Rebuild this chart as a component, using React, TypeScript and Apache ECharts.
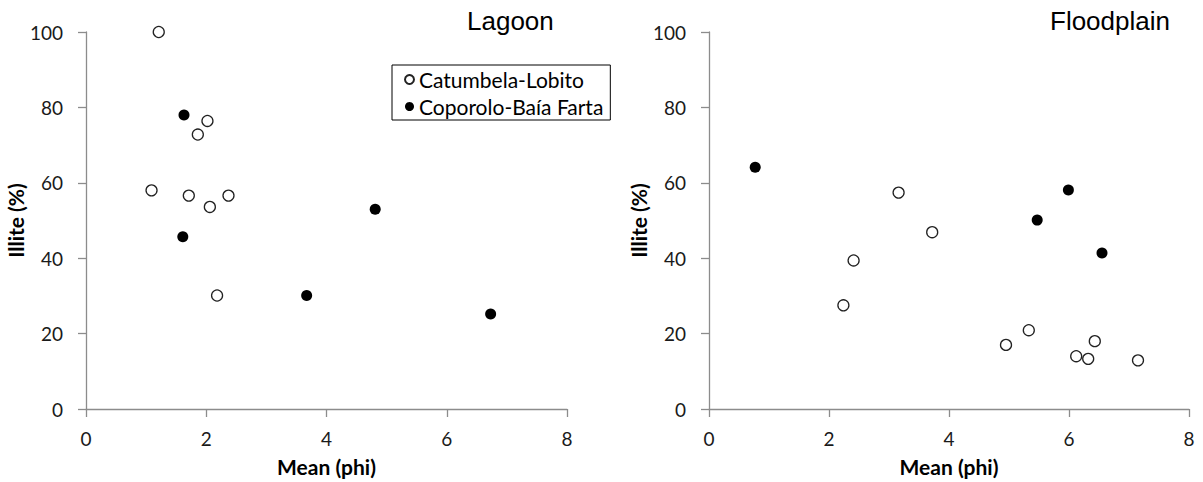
import React, { useEffect, useRef } from "react";
import * as echarts from "echarts";

const xTicks = [0, 2, 4, 6, 8];
const yTicks = [0, 20, 40, 60, 80, 100];
const seriesNames = ["Catumbela-Lobito", "Coporolo-Baía Farta"];
const panelTitles = ["Lagoon", "Floodplain"];
const xAxisName = "Mean (phi)";
const yAxisName = "Illite (%)";

const lagoonCatumbela = [
  [1.21, 100], [2.02, 76.4], [1.86, 72.8], [1.09, 58.0],
  [1.71, 56.6], [2.37, 56.6], [2.06, 53.6], [2.18, 30.1],
];
const lagoonCoporolo = [
  [1.63, 78.0], [1.61, 45.7], [3.67, 30.1], [4.81, 53.0], [6.73, 25.2],
];
const floodCatumbela = [
  [3.16, 57.4], [3.72, 46.9], [2.41, 39.4], [2.24, 27.5], [4.95, 17.0],
  [5.33, 20.9], [6.12, 14.0], [6.32, 13.3], [6.43, 18.0], [7.15, 12.9],
];
const floodCoporolo = [
  [0.77, 64.1], [5.47, 50.1], [5.99, 58.1], [6.55, 41.4],
];

const FONT = "Lato, 'Open Sans', sans-serif";

export default function App() {
  const ref = useRef<HTMLDivElement>(null);

  useEffect(() => {
    if (!ref.current) return;
    const chart = echarts.init(ref.current, undefined, { renderer: "svg" });

    const axisLineStyle = { color: "#8c8c8c", width: 1.3 };
    const makeX = (gridIndex: number) => ({
      type: "value",
      gridIndex,
      min: xTicks[0],
      max: xTicks[xTicks.length - 1],
      interval: xTicks[1] - xTicks[0],
      name: xAxisName,
      nameLocation: "middle",
      nameGap: 47,
      nameTextStyle: { fontFamily: FONT, fontWeight: "bold", fontSize: 21, color: "#000" },
      axisLine: { show: true, onZero: false, lineStyle: axisLineStyle },
      axisTick: { show: true, inside: false, length: 8, lineStyle: axisLineStyle },
      axisLabel: { margin: 20, fontFamily: FONT, fontSize: 19, color: "#1a1a1a" },
      splitLine: { show: false },
    });
    const makeY = (gridIndex: number) => ({
      type: "value",
      gridIndex,
      min: yTicks[0],
      max: yTicks[yTicks.length - 1],
      interval: yTicks[1] - yTicks[0],
      name: yAxisName,
      nameLocation: "middle",
      nameGap: 54,
      nameTextStyle: { fontFamily: FONT, fontWeight: "bold", fontSize: 21, color: "#000" },
      axisLine: { show: true, onZero: false, lineStyle: axisLineStyle },
      axisTick: { show: true, inside: false, length: 8, lineStyle: axisLineStyle },
      axisLabel: { margin: 23, fontFamily: FONT, fontSize: 19, color: "#1a1a1a" },
      splitLine: { show: false },
    });

    const openStyle = { color: "#ffffff", borderColor: "#222", borderWidth: 1.3, opacity: 1 };
    const filledStyle = { color: "#000000", borderColor: "#000", borderWidth: 0, opacity: 1 };

    chart.setOption({
      animation: false,
      backgroundColor: "#ffffff",
      grid: [
        { left: 86, top: 32, width: 481, height: 378.6 },
        { left: 709, top: 32, width: 480, height: 378.6 },
      ],
      xAxis: [makeX(0), makeX(1)],
      yAxis: [makeY(0), makeY(1)],
      legend: {
        data: seriesNames,
        orient: "vertical",
        left: 392,
        top: 65,
        itemWidth: 9,
        itemHeight: 9,
        itemGap: 0,
        padding: [1, 7, 0, 12],
        borderColor: "#000",
        borderWidth: 1,
        icon: "circle",
        textStyle: { fontFamily: FONT, fontSize: 21, lineHeight: 27, color: "#000" },
      },
      graphic: [
        {
          type: "text",
          left: 467,
          top: 8,
          style: { text: panelTitles[0], font: "26px 'Liberation Sans', Arial, sans-serif", fill: "#000" },
        },
        {
          type: "text",
          left: 1050,
          top: 8,
          style: { text: panelTitles[1], font: "26px 'Liberation Sans', Arial, sans-serif", fill: "#000" },
        },
      ],
      series: [
        { name: seriesNames[0], type: "scatter", xAxisIndex: 0, yAxisIndex: 0, symbol: "circle", symbolSize: 11, itemStyle: openStyle, data: lagoonCatumbela },
        { name: seriesNames[1], type: "scatter", xAxisIndex: 0, yAxisIndex: 0, symbol: "circle", symbolSize: 11, itemStyle: filledStyle, data: lagoonCoporolo },
        { name: seriesNames[0], type: "scatter", xAxisIndex: 1, yAxisIndex: 1, symbol: "circle", symbolSize: 11, itemStyle: openStyle, data: floodCatumbela },
        { name: seriesNames[1], type: "scatter", xAxisIndex: 1, yAxisIndex: 1, symbol: "circle", symbolSize: 11, itemStyle: filledStyle, data: floodCoporolo },
      ],
    });

    return () => chart.dispose();
  }, []);

  return (
    <div
      ref={ref}
      style={{ position: "absolute", left: 0, top: 0, width: 1203, height: 482, background: "#fff" }}
    />
  );
}
